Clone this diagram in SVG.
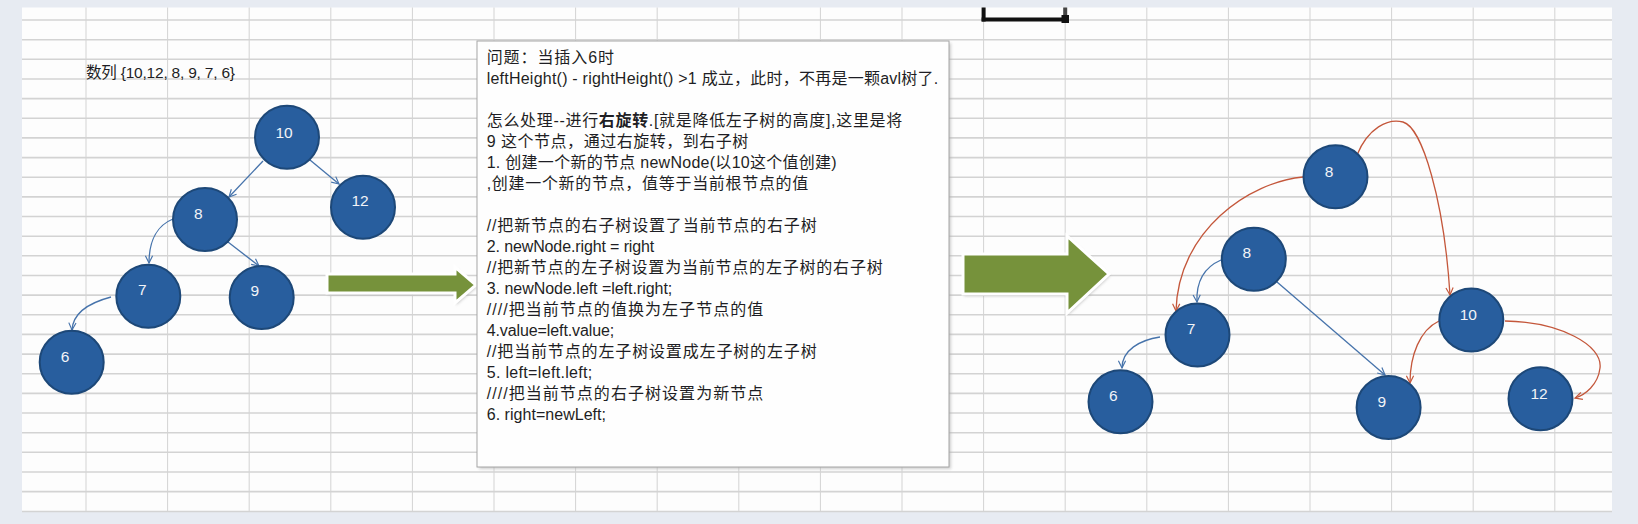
<svg xmlns="http://www.w3.org/2000/svg" width="1638" height="524" viewBox="0 0 1638 524">
<style>
.node ellipse{fill:#285e9e;stroke:#1d4878;stroke-width:2}
.node text{fill:#f2f4f8;font-family:"Liberation Sans","Noto Sans",sans-serif;font-size:15.5px;text-anchor:middle}
.blue{fill:none;stroke:#4673ab;stroke-width:1.3;marker-end:url(#ab)}
.red{fill:none;stroke:#c4573b;stroke-width:1.3;marker-end:url(#ar)}
.tb{font-family:"Liberation Sans","Noto Sans CJK SC",sans-serif;font-size:16px;fill:#1e1e24}
.garrow{fill:#76923b;stroke:#ffffff;stroke-width:3;stroke-linejoin:miter}
</style>
<defs>
<marker id="ab" viewBox="0 0 10 10" refX="9" refY="5" markerWidth="9" markerHeight="9" orient="auto" markerUnits="userSpaceOnUse"><path d="M1,1 L9,5 L1,9" fill="none" stroke="#4673ab" stroke-width="1.3"/></marker>
<marker id="ar" viewBox="0 0 10 10" refX="9" refY="5" markerWidth="9" markerHeight="9" orient="auto" markerUnits="userSpaceOnUse"><path d="M1,1 L9,5 L1,9" fill="none" stroke="#c4573b" stroke-width="1.3"/></marker>
<filter id="sh" x="-10%" y="-20%" width="130%" height="150%"><feGaussianBlur stdDeviation="1.5"/></filter>
</defs>
<rect x="0" y="0" width="1638" height="524" fill="#e7ebf2"/>
<rect x="22" y="7.5" width="1590" height="504" fill="#fdfdfd"/>
<g id="grid" stroke="#d3d3d3" fill="none">
<path stroke-width="1" d="M86,7.5V511.5M167.6,7.5V511.5M249.2,7.5V511.5M330.8,7.5V511.5M412.4,7.5V511.5M494,7.5V511.5M575.6,7.5V511.5M657.2,7.5V511.5M738.8,7.5V511.5M820.4,7.5V511.5M902,7.5V511.5M983.6,7.5V511.5M1065.2,7.5V511.5M1146.8,7.5V511.5M1228.4,7.5V511.5M1310,7.5V511.5M1391.6,7.5V511.5M1473.2,7.5V511.5M1554.8,7.5V511.5"/>
<path stroke-width="1.6" d="M22,20H1612M22,39.7H1612M22,59.3H1612M22,79H1612M22,98.6H1612M22,118.3H1612M22,137.9H1612M22,157.6H1612M22,177.2H1612M22,196.9H1612M22,216.5H1612M22,236.2H1612M22,255.8H1612M22,275.5H1612M22,295.1H1612M22,314.8H1612M22,334.4H1612M22,354.1H1612M22,373.7H1612M22,393.4H1612M22,413H1612M22,432.7H1612M22,452.3H1612M22,472H1612M22,491.6H1612M22,511.5H1612"/>
</g>
<g id="selection">
<rect x="981.6" y="7.5" width="4" height="14" fill="#111"/>
<rect x="981.6" y="17.5" width="83" height="4" fill="#111"/>
<rect x="1063.2" y="7.5" width="4" height="8" fill="#444"/>
<rect x="1061.5" y="15" width="7.5" height="8" fill="#111"/>
</g>
<text x="86" y="77.5" font-family="Liberation Sans,'Noto Sans CJK SC',sans-serif" font-size="15.5px" fill="#1e1e24" textLength="149">数列 {10,12, 8, 9, 7, 6}</text>
<g id="arrow-left">
<polygon points="327,274 455,274 455,267 476,285 455,303 455,293 327,293" fill="#9a9a9a" opacity="0.55" filter="url(#sh)" transform="translate(1,2)"/>
<polygon class="garrow" points="327,274 455,274 455,267 476,285 455,303 455,293 327,293"/>
</g>
<g id="arrow-right">
<polygon points="963,254 1067,254 1067,236 1109,274 1067,313 1067,294 963,294" fill="#9a9a9a" opacity="0.55" filter="url(#sh)" transform="translate(1,2)"/>
<polygon class="garrow" points="963,254 1067,254 1067,236 1109,274 1067,313 1067,294 963,294"/>
</g>
<g id="note">
<rect x="479" y="43" width="472" height="426" fill="#b0b0b0" opacity="0.6" filter="url(#sh)"/>
<rect x="477" y="41" width="472" height="426" fill="#fefefe" stroke="#a6a6a6" stroke-width="1"/>
<text class="tb" x="486.7" y="63.3" textLength="127.3">问题：当插入6时</text>
<text class="tb" x="486.7" y="84.3" textLength="451.6">leftHeight() - rightHeight() &gt;1 成立，此时，不再是一颗avl树了.</text>
<text class="tb" x="486.7" y="126.3" textLength="415.6">怎么处理--进行<tspan font-weight="bold">右旋转</tspan>.[就是降低左子树的高度],这里是将</text>
<text class="tb" x="486.7" y="147.3" textLength="261.6">9 这个节点，通过右旋转，到右子树</text>
<text class="tb" x="486.7" y="168.3" textLength="350">1. 创建一个新的节点 newNode(以10这个值创建)</text>
<text class="tb" x="486.7" y="189.3" textLength="321.6">,创建一个新的节点，值等于当前根节点的值</text>
<text class="tb" x="486.7" y="231.3" textLength="330">//把新节点的右子树设置了当前节点的右子树</text>
<text class="tb" x="486.7" y="252.3" textLength="167.6">2. newNode.right = right</text>
<text class="tb" x="486.7" y="273.3" textLength="396">//把新节点的左子树设置为当前节点的左子树的右子树</text>
<text class="tb" x="486.7" y="294.3" textLength="185.6">3. newNode.left =left.right;</text>
<text class="tb" x="486.7" y="315.3" textLength="276.6">////把当前节点的值换为左子节点的值</text>
<text class="tb" x="486.7" y="336.3" textLength="127.6">4.value=left.value;</text>
<text class="tb" x="486.7" y="357.3" textLength="330">//把当前节点的左子树设置成左子树的左子树</text>
<text class="tb" x="486.7" y="378.3" textLength="105.6">5. left=left.left;</text>
<text class="tb" x="486.7" y="399.3" textLength="276.6">////把当前节点的右子树设置为新节点</text>
<text class="tb" x="486.7" y="420.3" textLength="119.3">6. right=newLeft;</text>
</g>
<g id="connectors">
<path class="blue" d="M263,161 L229,197"/>
<path class="blue" d="M310,160 L339,184"/>
<path class="blue" d="M173,219 C158,225 149,240 149,263"/>
<path class="blue" d="M228,242 L259,266"/>
<path class="blue" d="M111,297 C92,302 73,312 72,330"/>
<path class="blue" d="M1221,260 C1205,267 1196,280 1197,302"/>
<path class="blue" d="M1277,282 L1385,375"/>
<path class="blue" d="M1160,337 C1140,340 1122,350 1122,368"/>
<path class="red" d="M1303,177 C1250,182 1178,230 1176,311"/>
<path class="red" d="M1357,155 C1368,128 1388,118 1403,122 C1422,127 1444,200 1450,295"/>
<path class="red" d="M1439,321 C1420,330 1410,355 1410,383"/>
<path class="red" d="M1505,321 C1560,322 1603,345 1600,368 C1598,385 1585,395 1575,398"/>
</g>
<g id="L10" class="node"><ellipse cx="287" cy="137.3" rx="32" ry="31.5"/><text x="284" y="137.6">10</text></g>
<g id="L12" class="node"><ellipse cx="363" cy="207.3" rx="32" ry="31.5"/><text x="360" y="206.3">12</text></g>
<g id="L8" class="node"><ellipse cx="205" cy="219.5" rx="32" ry="31.5"/><text x="198.3" y="218.9">8</text></g>
<g id="L7" class="node"><ellipse cx="148.3" cy="296.3" rx="32" ry="31.5"/><text x="142.3" y="294.9">7</text></g>
<g id="L9" class="node"><ellipse cx="261.7" cy="297.5" rx="32" ry="31.5"/><text x="254.7" y="296.3">9</text></g>
<g id="L6" class="node"><ellipse cx="71.7" cy="362.3" rx="32" ry="31.5"/><text x="65" y="361.6">6</text></g>
<g id="R8a" class="node"><ellipse cx="1335.5" cy="176.7" rx="32" ry="31.5"/><text x="1329" y="176.6">8</text></g>
<g id="R8b" class="node"><ellipse cx="1253.8" cy="259.2" rx="32" ry="31.5"/><text x="1246.7" y="257.9">8</text></g>
<g id="R7" class="node"><ellipse cx="1197.5" cy="335" rx="32" ry="31.5"/><text x="1191" y="333.9">7</text></g>
<g id="R6" class="node"><ellipse cx="1120.5" cy="401.7" rx="32" ry="31.5"/><text x="1113.3" y="400.6">6</text></g>
<g id="R9" class="node"><ellipse cx="1388.6" cy="407.5" rx="32" ry="31.5"/><text x="1381.7" y="407.3">9</text></g>
<g id="R10" class="node"><ellipse cx="1471.3" cy="320" rx="32" ry="31.5"/><text x="1468.3" y="319.9">10</text></g>
<g id="R12" class="node"><ellipse cx="1540.5" cy="398.7" rx="32" ry="31.5"/><text x="1539" y="398.9">12</text></g>
</svg>
